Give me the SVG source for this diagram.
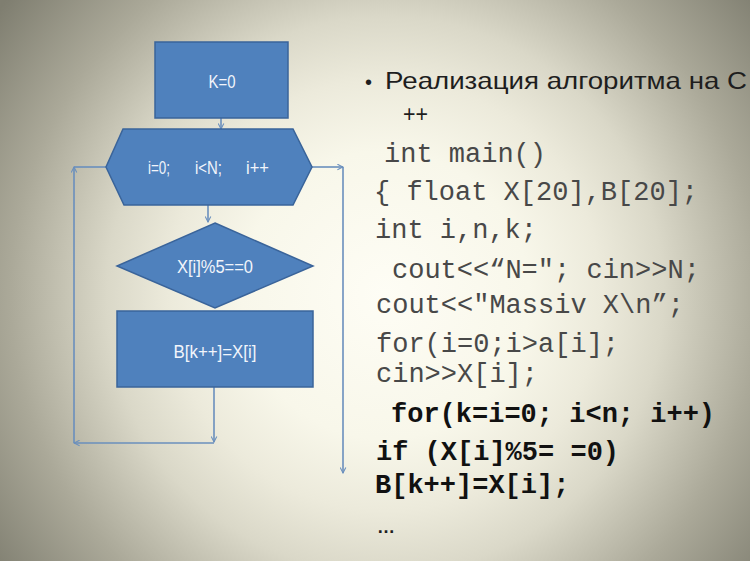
<svg xmlns="http://www.w3.org/2000/svg" width="750" height="561" viewBox="0 0 750 561">
<defs>
<radialGradient id="bg" gradientUnits="userSpaceOnUse" cx="385" cy="295" r="480">
<stop offset="0" stop-color="#fefdf5"/>
<stop offset="0.3" stop-color="#f8f7ea"/>
<stop offset="0.45" stop-color="#eceadb"/>
<stop offset="0.58" stop-color="#dad8c8"/>
<stop offset="0.78" stop-color="#aba999"/>
<stop offset="1" stop-color="#7f7e70"/>
</radialGradient>
<marker id="ah" viewBox="0 0 10 10" refX="9" refY="5" markerWidth="7" markerHeight="7" orient="auto" markerUnits="userSpaceOnUse">
<path d="M1,1 L9,5 L1,9" fill="none" stroke="#6a8fbd" stroke-width="1.5"/>
</marker>
<style>
.shape{fill:#4f81bd;stroke:#3a649a;stroke-width:1.5}
.lbl{font-family:"Liberation Sans","Open Sans",sans-serif;font-size:18.5px;fill:#f2f5fb;text-anchor:middle}
.con{fill:none;stroke:#6a8fbd;stroke-width:1.6}
.arr{marker-end:url(#ah)}
.ttl{font-family:"Liberation Sans","Noto Sans",sans-serif;font-size:24px;fill:#1e1e1e}
.code{font-family:"Liberation Mono",monospace;font-size:27px;fill:#484848}
.bold{font-weight:bold;fill:#111}
</style>
</defs>
<rect width="750" height="561" fill="url(#bg)"/>

<g id="connectors">
<line class="con arr" x1="221" y1="118" x2="221" y2="129"/>
<line class="con arr" x1="208" y1="205" x2="208" y2="222"/>
<line class="con arr" x1="214" y1="387" x2="214" y2="442"/>
<line class="con arr" x1="214" y1="443" x2="74" y2="443"/>
<line class="con arr" x1="74" y1="443" x2="74" y2="167"/>
<line class="con" x1="74" y1="167" x2="106" y2="167"/>
<line class="con arr" x1="312" y1="167" x2="343" y2="167"/>
<line class="con arr" x1="343" y1="167" x2="343" y2="473"/>
</g>

<g id="node-k0">
<rect class="shape" x="155" y="42" width="133" height="76"/>
<text class="lbl" x="222" y="88" textLength="27" lengthAdjust="spacingAndGlyphs">K=0</text>
</g>

<g id="node-loop">
<polygon class="shape" points="123,129 293,129 312,167 293,205 124,205 106,167"/>
<text class="lbl" y="174" style="text-anchor:start"><tspan x="148" textLength="22" lengthAdjust="spacingAndGlyphs">i=0;</tspan><tspan x="195" textLength="27" lengthAdjust="spacingAndGlyphs">i&lt;N;</tspan><tspan x="246" textLength="23" lengthAdjust="spacingAndGlyphs">i++</tspan></text>
</g>

<g id="node-cond">
<polygon class="shape" points="215,223 313,266 215,308 117,266"/>
<text class="lbl" x="215" y="273" textLength="76" lengthAdjust="spacingAndGlyphs">X[i]%5==0</text>
</g>

<g id="node-assign">
<rect class="shape" x="117" y="311" width="196" height="76"/>
<text class="lbl" x="215" y="358" textLength="83" lengthAdjust="spacingAndGlyphs">B[k++]=X[i]</text>
</g>

<g id="code-text">
<text class="ttl" x="365" y="89" style="font-size:20px">•</text>
<text class="ttl" x="385" y="89" textLength="362" lengthAdjust="spacingAndGlyphs">Реализация алгоритма на С</text>
<text class="ttl" x="403" y="122" textLength="25" lengthAdjust="spacingAndGlyphs">++</text>
<text class="code" x="384" y="162">int main()</text>
<text class="code" x="374" y="200">{ float X[20],B[20];</text>
<text class="code" x="375" y="238">int i,n,k;</text>
<text class="code" x="392" y="278">cout&lt;&lt;“N="; cin&gt;&gt;N;</text>
<text class="code" x="376" y="313">cout&lt;&lt;"Massiv X\n”;</text>
<text class="code" x="376" y="352">for(i=0;i&gt;a[i];</text>
<text class="code" x="376" y="382">cin&gt;&gt;X[i];</text>
<text class="code bold" x="391" y="422">for(k=i=0; i&lt;n; i++)</text>
<text class="code bold" x="376" y="460">if (X[i]%5= =0)</text>
<text class="code bold" x="375" y="493">B[k++]=X[i];</text>
<text class="ttl" x="377" y="533" style="font-size:18px;font-weight:bold">…</text>
</g>
</svg>
